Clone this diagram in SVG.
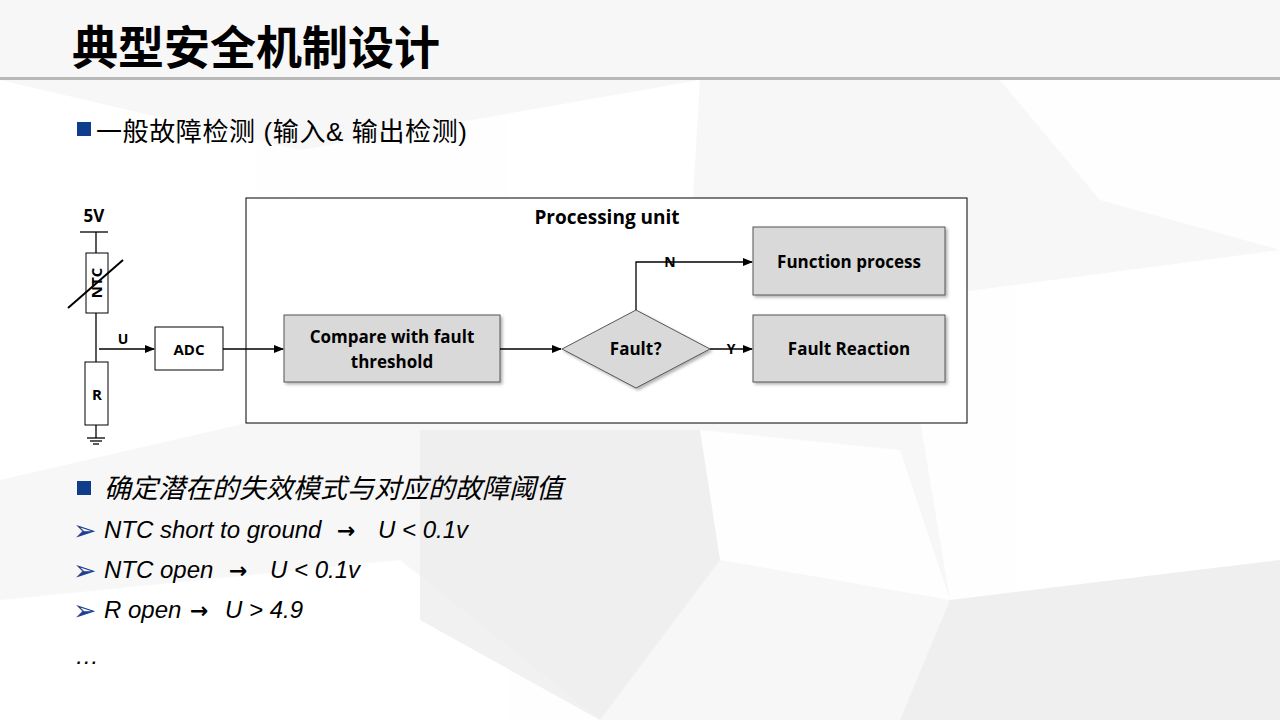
<svg xmlns="http://www.w3.org/2000/svg" width="1280" height="720" viewBox="0 0 1280 720">
<defs>
<marker id="ah" markerWidth="10" markerHeight="8" refX="9" refY="4" orient="auto" markerUnits="userSpaceOnUse"><path d="M0,0 L10,4 L0,8 Z" fill="#000"/></marker>
<filter id="sh" x="-10%" y="-10%" width="130%" height="140%"><feDropShadow dx="2" dy="2" stdDeviation="1.5" flood-color="#000" flood-opacity="0.3"/></filter>
<style>
text{font-family:"Open Sans","Noto Sans","Noto Sans CJK SC",sans-serif;fill:#000}
.b{font-weight:bold;font-size:17px}
.box{fill:#d9d9d9;stroke:#555;stroke-width:1;filter:url(#sh)}
.wb{fill:#fff;stroke:#000;stroke-width:1}
.ln{stroke:#000;stroke-width:1.3;fill:none}
.it{font-family:"Liberation Sans","Noto Sans CJK SC",sans-serif;font-style:italic;font-size:24px}
.ar{font-family:"DejaVu Sans",sans-serif;font-size:28px;fill:#1f3f8f}
.ra{font-family:"DejaVu Sans",sans-serif;font-size:22px;font-weight:bold}
</style>
</defs>
<rect width="1280" height="720" fill="#f7f7f7"/>
<g fill="#fff" opacity="0.9">
<polygon points="0,80 300,150 260,420 0,480"/>
<polygon points="300,150 700,80 680,420 260,420"/>
<polygon points="900,300 1280,250 1280,560 950,600"/>
<polygon points="700,430 900,450 950,600 720,560"/>
<polygon points="0,600 400,560 600,720 0,720"/>
<polygon points="1000,80 1280,80 1280,250 1100,200"/>
</g>
<g fill="#ebebeb" opacity="0.7">
<polygon points="420,430 700,430 720,560 600,720 420,620"/>
<polygon points="950,600 1280,560 1280,720 900,720"/>
</g>
<text x="72" y="64" style="font-family:'Noto Sans CJK SC',sans-serif;font-weight:bold;font-size:46px">典型安全机制设计</text>
<rect x="0" y="77" width="1280" height="3" fill="#b8b8b8"/>
<rect x="77" y="122" width="14" height="14" fill="#0f3d8c"/>
<text x="96" y="141" style="font-family:'Liberation Sans','Noto Sans CJK SC',sans-serif;font-size:26px" textLength="371">一般故障检测 (输入&amp; 输出检测)</text>

<g id="processing-unit"><rect x="246" y="198" width="721" height="225" class="wb"/><text x="607" y="224" class="b" text-anchor="middle" style="font-size:19px">Processing unit</text></g>
<g id="compare"><rect x="284" y="315" width="216" height="67" class="box"/><text x="392" y="343" class="b" text-anchor="middle">Compare with fault</text><text x="392" y="368" class="b" text-anchor="middle">threshold</text></g>
<g id="fault"><polygon points="636,310 710,349 636,388 562,349" class="box"/><text x="640" y="355" class="b" text-anchor="middle">Fault？</text></g>
<g id="function-process"><rect x="753" y="227" width="192" height="68" class="box"/><text x="849" y="268" class="b" text-anchor="middle">Function process</text></g>
<g id="fault-reaction"><rect x="753" y="315" width="192" height="67" class="box"/><text x="849" y="355" class="b" text-anchor="middle">Fault Reaction</text></g>
<g id="adc"><rect x="155" y="327" width="68" height="43" class="wb"/><text x="189" y="355" class="b" text-anchor="middle" style="font-size:15px">ADC</text></g>
<g id="circuit">
<text x="94" y="222" class="b" text-anchor="middle">5V</text>
<line x1="80" y1="232" x2="108" y2="232" class="ln"/>
<line x1="96" y1="232" x2="96" y2="253" class="ln"/>
<rect x="86" y="253" width="22" height="60" class="wb"/>
<text x="0" y="0" class="b" transform="translate(102,283) rotate(-90)" text-anchor="middle" style="font-size:15px">NTC</text>
<line x1="68" y1="308" x2="123" y2="260" stroke="#000" stroke-width="2"/>
<line x1="96" y1="313" x2="96" y2="362" class="ln"/>
<rect x="85" y="362" width="23" height="63" class="wb"/>
<text x="97" y="400" class="b" text-anchor="middle" style="font-size:15px">R</text>
<line x1="96" y1="425" x2="96" y2="438" class="ln"/>
<line x1="87" y1="438" x2="105" y2="438" class="ln"/>
<line x1="90" y1="441" x2="102" y2="441" class="ln"/>
<line x1="93" y1="444" x2="99" y2="444" class="ln"/>
</g>
<g id="connectors">
<line x1="99" y1="349" x2="154" y2="349" class="ln" marker-end="url(#ah)"/>
<text x="123" y="344" class="b" text-anchor="middle" style="font-size:14px">U</text>
<line x1="223" y1="349" x2="283" y2="349" class="ln" marker-end="url(#ah)"/>
<line x1="500" y1="349" x2="561" y2="349" class="ln" marker-end="url(#ah)"/>
<polyline points="636,310 636,262 752,262" class="ln" marker-end="url(#ah)"/>
<text x="670" y="267" class="b" text-anchor="middle" style="font-size:14px">N</text>
<line x1="710" y1="349" x2="752" y2="349" class="ln" marker-end="url(#ah)"/>
<text x="731" y="354" class="b" text-anchor="middle" style="font-size:14px">Y</text>
</g>

<rect x="77" y="481" width="14" height="14" fill="#0f3d8c"/>
<text x="104" y="498" class="it" style="font-size:27px">确定潜在的失效模式与对应的故障阈值</text>
<text x="73" y="540" class="ar">➢</text><text x="104" y="538" class="it">NTC short to ground</text><text x="337" y="538" class="ra">→</text><text x="378" y="538" class="it">U &lt; 0.1v</text>
<text x="73" y="580" class="ar">➢</text><text x="104" y="578" class="it">NTC open</text><text x="229" y="578" class="ra">→</text><text x="270" y="578" class="it">U &lt; 0.1v</text>
<text x="73" y="620" class="ar">➢</text><text x="104" y="618" class="it">R open</text><text x="190" y="618" class="ra">→</text><text x="225" y="618" class="it">U &gt; 4.9</text>
<text x="75" y="664" class="it">…</text>
</svg>
